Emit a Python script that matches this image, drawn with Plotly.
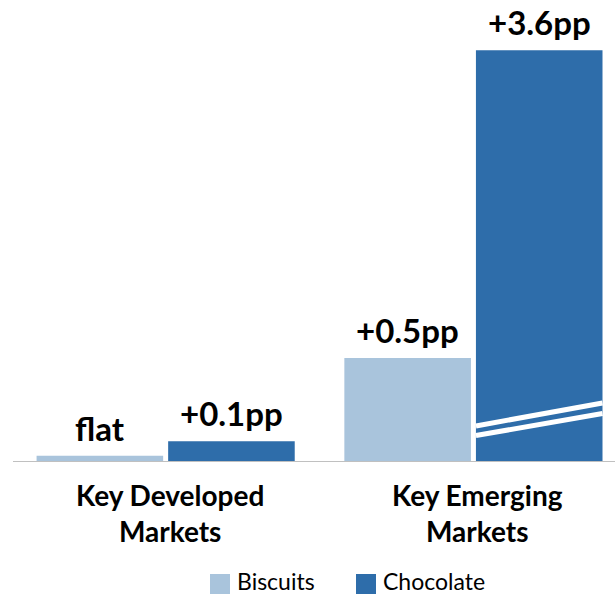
import plotly.graph_objects as go

categories = ["Key Developed<br>Markets", "Key Emerging<br>Markets"]
series_names = ["Biscuits", "Chocolate"]
# bar heights in pp (the +3.6pp bar is drawn on a broken axis)
biscuits_heights = [0.03, 0.5]
chocolate_heights = [0.1, 1.98]
biscuits_labels = ["flat", "+0.5pp"]
chocolate_labels = ["+0.1pp", "+3.6pp"]

light = "#A9C4DC"
dark = "#2E6DAA"
font_family = "Lato, 'Open Sans', sans-serif"

W, H = 615, 595
ML, MB = 13, 133
PW, PH = W - ML, H - MB


def px_x(p):
    return (p - ML) / PW


def px_y(p):
    return (PH - p) / PH


bargap = 0.145
groupgap = 0.038
slot = (1 - bargap) / 2
bw = slot * (1 - groupgap)

fig = go.Figure()
for name, vals, color in [(series_names[0], biscuits_heights, light),
                          (series_names[1], chocolate_heights, dark)]:
    fig.add_trace(go.Bar(
        name=name, x=[0, 1], y=vals,
        marker=dict(color=color, line=dict(width=0)),
        showlegend=False, hoverinfo="skip",
    ))

# value labels above bars
for si, (vals, labels) in enumerate([(biscuits_heights, biscuits_labels),
                                     (chocolate_heights, chocolate_labels)]):
    for gi, (v, lab) in enumerate(zip(vals, labels)):
        cx = gi + (si - 0.5) * slot
        fig.add_annotation(x=cx, y=v, xref="x", yref="y", text=lab, showarrow=False,
                           yanchor="middle", yshift=28,
                           font=dict(family=font_family, size=33, color="black", weight="bold"))

# category labels (two lines each)
for gi, cat in enumerate(categories):
    fig.add_annotation(x=gi, y=0, xref="x", yref="paper", text=cat, showarrow=False,
                       yanchor="top", yshift=-14, xshift=4, align="center",
                       font=dict(family=font_family, size=28, color="black", weight="bold"))

# axis-break marks on the broken bar
cx = 1 + slot / 2
x0, x1 = cx - bw / 2, cx + bw / 2
for yl, yr in [(0.173, 0.284), (0.127, 0.233)]:
    fig.add_shape(type="line", xref="x", yref="y", x0=x0, x1=x1, y0=yl, y1=yr,
                  line=dict(color="white", width=5))

# baseline
fig.add_shape(type="line", xref="paper", yref="y", x0=0, x1=1, y0=0, y1=0,
              line=dict(color="#C0C0C0", width=2))

# custom legend
legend_items = [(series_names[0], light, 210), (series_names[1], dark, 356)]
for name, color, lx in legend_items:
    fig.add_shape(type="rect", xref="paper", yref="paper",
                  x0=px_x(lx), x1=px_x(lx + 20), y0=px_y(594), y1=px_y(574),
                  fillcolor=color, line=dict(width=0))
    fig.add_annotation(x=px_x(lx + 25), y=px_y(581), xref="paper", yref="paper",
                       text=name, showarrow=False, xanchor="left", yanchor="middle",
                       font=dict(family=font_family, size=23, color="black"))

fig.update_layout(
    width=W, height=H,
    margin=dict(l=ML, r=0, t=0, b=MB),
    barmode="group", bargap=bargap, bargroupgap=groupgap,
    plot_bgcolor="white", paper_bgcolor="white",
    showlegend=False,
    xaxis=dict(range=[-0.496, 1.46], visible=False, showgrid=False, zeroline=False),
    yaxis=dict(range=[0, 2.221], visible=False, showgrid=False, zeroline=False),
)

fig.write_html("out.html")
